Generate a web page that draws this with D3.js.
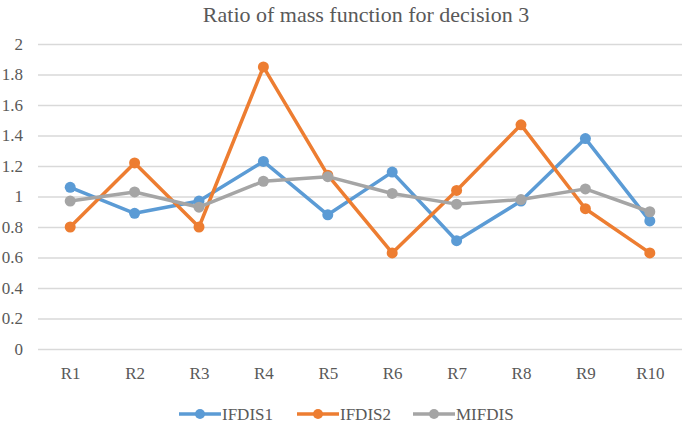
<!DOCTYPE html>
<html>
<head>
<meta charset="utf-8">
<script src="https://cdn.jsdelivr.net/npm/d3@7"></script>
<style>
  body { margin: 0; background: #fff; }
</style>
</head>
<body>
<svg id="chart" width="685" height="425"></svg>
<script>
// Data
var categories = ["R1", "R2", "R3", "R4", "R5", "R6", "R7", "R8", "R9", "R10"];
var ifdis1 = [1.06, 0.89, 0.97, 1.23, 0.88, 1.16, 0.71, 0.97, 1.38, 0.84];
var ifdis2 = [0.80, 1.22, 0.80, 1.85, 1.14, 0.63, 1.04, 1.47, 0.92, 0.63];
var mifdis = [0.97, 1.03, 0.93, 1.10, 1.13, 1.02, 0.95, 0.98, 1.05, 0.90];
var yTicks = [0, 0.2, 0.4, 0.6, 0.8, 1, 1.2, 1.4, 1.6, 1.8, 2];
var seriesNames = ["IFDIS1", "IFDIS2", "MIFDIS"];
var seriesColors = ["#5b9bd5", "#ed7d31", "#a5a5a5"];

var FONT = "Liberation Serif";

var series = [ifdis1, ifdis2, mifdis].map(function(vals, i) {
  return { name: seriesNames[i], color: seriesColors[i], values: vals };
});

// Dimensions
var margin = { top: 44, right: 3, bottom: 76, left: 38 };
var width = 685 - margin.left - margin.right;
var height = 425 - margin.top - margin.bottom;

var svg = d3.select("#chart");

svg.append("text")
  .attr("x", 366)
  .attr("y", 22)
  .attr("text-anchor", "middle")
  .attr("font-family", FONT)
  .attr("font-size", "22px")
  .attr("fill", "#595959")
  .text("Ratio of mass function for decision 3");

var g = svg.append("g")
  .attr("transform", "translate(" + margin.left + "," + margin.top + ")");

var x = d3.scalePoint().domain(categories).range([0, width]).padding(0.5);
var y = d3.scaleLinear().domain([0, 2]).range([height, 0]);

// gridlines + y labels
var yAxis = g.append("g")
  .call(d3.axisLeft(y).tickValues(yTicks).tickSize(-width).tickFormat(d3.format("~g")));
yAxis.select(".domain").remove();
yAxis.selectAll(".tick line")
  .attr("stroke", "#d9d9d9")
  .attr("stroke-width", 1.5);
yAxis.selectAll(".tick text")
  .attr("x", -15)
  .attr("font-family", FONT)
  .attr("font-size", "17px")
  .attr("fill", "#595959");

// x labels
var xAxis = g.append("g")
  .attr("transform", "translate(0," + height + ")")
  .call(d3.axisBottom(x).tickSize(0).tickPadding(18));
xAxis.select(".domain").remove();
xAxis.selectAll(".tick text")
  .attr("font-family", FONT)
  .attr("font-size", "17px")
  .attr("fill", "#595959");

var line = d3.line()
  .x(function(d, i) { return x(categories[i]); })
  .y(function(d) { return y(d); });

var groups = g.selectAll(".series")
  .data(series)
  .enter().append("g")
  .attr("class", "series");

groups.append("path")
  .attr("d", function(d) { return line(d.values); })
  .attr("fill", "none")
  .attr("stroke", function(d) { return d.color; })
  .attr("stroke-width", 3.5)
  .attr("stroke-linejoin", "round");

groups.selectAll("circle")
  .data(function(d) { return d.values.map(function(v) { return { v: v, color: d.color }; }); })
  .enter().append("circle")
  .attr("cx", function(d, i) { return x(categories[i]); })
  .attr("cy", function(d) { return y(d.v); })
  .attr("r", 5.5)
  .attr("fill", function(d) { return d.color; });

// legend
var legendX = [179, 297, 413];
var legend = svg.selectAll(".legend")
  .data(series)
  .enter().append("g")
  .attr("class", "legend")
  .attr("transform", function(d, i) { return "translate(" + legendX[i] + ",414)"; });

legend.append("line")
  .attr("x1", 0).attr("x2", 42)
  .attr("stroke", function(d) { return d.color; })
  .attr("stroke-width", 3.5);
legend.append("circle")
  .attr("cx", 21).attr("r", 5)
  .attr("fill", function(d) { return d.color; });
legend.append("text")
  .attr("x", 43)
  .attr("dy", "0.35em")
  .attr("font-family", FONT)
  .attr("font-size", "17px")
  .attr("fill", "#595959")
  .text(function(d) { return d.name; });
</script>
</body>
</html>
